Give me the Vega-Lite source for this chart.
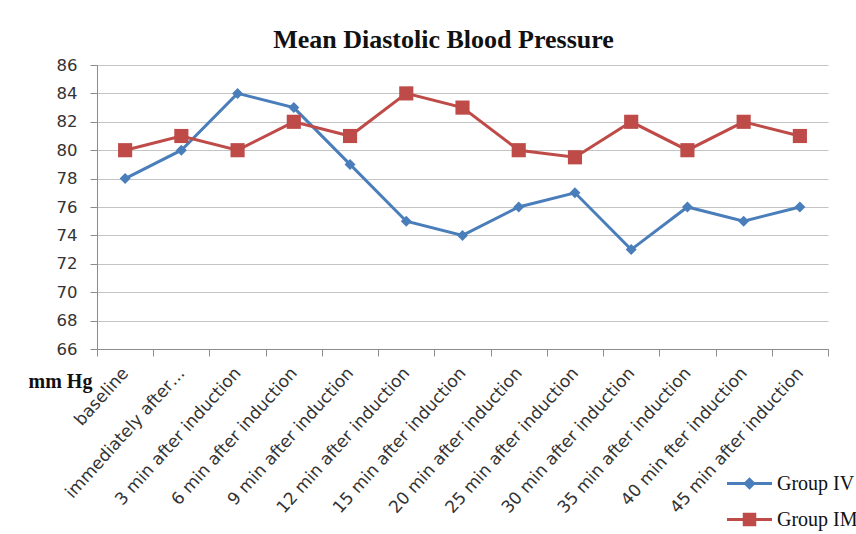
{
  "$schema": "https://vega.github.io/schema/vega-lite/v6.json",
  "autosize": "none",
  "width": 731,
  "height": 284,
  "padding": {"left": 97, "top": 65, "right": 28, "bottom": 185},
  "background": "white",
  "title": {
    "text": "Mean Diastolic Blood Pressure",
    "font": "Liberation Serif",
    "fontSize": 26,
    "fontWeight": "bold",
    "color": "#111",
    "anchor": "middle",
    "dx": -19,
    "baseline": "alphabetic",
    "offset": -17
  },
  "data": {
    "values": [
      {"time": "baseline", "group": "Group IV", "value": 78},
      {"time": "immediately after…", "group": "Group IV", "value": 80},
      {"time": "3 min after induction", "group": "Group IV", "value": 84},
      {"time": "6 min after induction", "group": "Group IV", "value": 83},
      {"time": "9 min after induction", "group": "Group IV", "value": 79},
      {"time": "12 min after induction", "group": "Group IV", "value": 75},
      {"time": "15 min after induction", "group": "Group IV", "value": 74},
      {"time": "20 min after induction", "group": "Group IV", "value": 76},
      {"time": "25 min after induction", "group": "Group IV", "value": 77},
      {"time": "30 min after induction", "group": "Group IV", "value": 73},
      {"time": "35 min after induction", "group": "Group IV", "value": 76},
      {"time": "40 min fter induction", "group": "Group IV", "value": 75},
      {"time": "45 min after induction", "group": "Group IV", "value": 76},
      {"time": "baseline", "group": "Group IM", "value": 80},
      {"time": "immediately after…", "group": "Group IM", "value": 81},
      {"time": "3 min after induction", "group": "Group IM", "value": 80},
      {"time": "6 min after induction", "group": "Group IM", "value": 82},
      {"time": "9 min after induction", "group": "Group IM", "value": 81},
      {"time": "12 min after induction", "group": "Group IM", "value": 84},
      {"time": "15 min after induction", "group": "Group IM", "value": 83},
      {"time": "20 min after induction", "group": "Group IM", "value": 80},
      {"time": "25 min after induction", "group": "Group IM", "value": 79.5},
      {"time": "30 min after induction", "group": "Group IM", "value": 82},
      {"time": "35 min after induction", "group": "Group IM", "value": 80},
      {"time": "40 min fter induction", "group": "Group IM", "value": 82},
      {"time": "45 min after induction", "group": "Group IM", "value": 81}
    ]
  },
  "encoding": {
    "x": {
      "field": "time",
      "type": "nominal",
      "sort": null,
      "scale": {"type": "band", "paddingInner": 0, "paddingOuter": 0},
      "axis": {
        "title": null,
        "labelAngle": -48,
        "labelFont": "DejaVu Sans",
        "labelFontSize": 17,
        "labelColor": "#333",
        "labelPadding": 14,
        "labelLimit": 400,
        "tickBand": "extent",
        "tickSize": 7,
        "tickColor": "#8c8c8c",
        "domainColor": "#8c8c8c",
        "grid": false,
        "labelOverlap": false
      }
    },
    "y": {
      "field": "value",
      "type": "quantitative",
      "scale": {"domain": [66, 86], "nice": false, "zero": false},
      "axis": {
        "values": [66, 68, 70, 72, 74, 76, 78, 80, 82, 84, 86],
        "title": "mm Hg",
        "titleAngle": 0,
        "titleFont": "Liberation Serif",
        "titleFontSize": 20,
        "titleFontWeight": "bold",
        "titleColor": "#111",
        "titleAlign": "left",
        "titleBaseline": "alphabetic",
        "titleX": -69,
        "titleY": 322,
        "labelFont": "DejaVu Sans",
        "labelFontSize": 16.5,
        "labelColor": "#333",
        "labelPadding": 13,
        "tickSize": 7,
        "tickColor": "#8c8c8c",
        "domainColor": "#8c8c8c",
        "gridColor": "#c4c4c4",
        "gridWidth": 1.2
      }
    },
    "color": {
      "field": "group",
      "type": "nominal",
      "scale": {"domain": ["Group IV", "Group IM"], "range": ["#4A7EBB", "#BE4B48"]}
    }
  },
  "layer": [
    {"mark": {"type": "line", "strokeWidth": 3}},
    {
      "transform": [{"filter": "datum.group == 'Group IV'"}],
      "mark": {"type": "point", "shape": "diamond", "filled": true, "opacity": 1, "size": 120}
    },
    {
      "transform": [{"filter": "datum.group == 'Group IM'"}],
      "mark": {"type": "point", "shape": "square", "filled": true, "opacity": 1, "size": 200}
    },
    {
      "transform": [{"filter": "false"}],
      "mark": {"type": "point", "filled": true, "opacity": 1},
      "encoding": {
        "shape": {
          "field": "group",
          "type": "nominal",
          "scale": {
            "domain": ["Group IV", "Group IM"],
            "range": [
              "M-1,-0.067H1V0.067H-1Z M0,-0.28L0.28,0L0,0.28L-0.28,0Z",
              "M-1,-0.067H1V0.067H-1Z M-0.3,-0.3H0.3V0.3H-0.3Z"
            ]
          }
        }
      }
    }
  ],
  "config": {
    "view": {"stroke": null},
    "legend": {
      "orient": "none",
      "legendX": 630,
      "legendY": 396,
      "title": null,
      "padding": 0,
      "labelFont": "Liberation Serif",
      "labelFontSize": 20,
      "labelColor": "#111",
      "labelOffset": 5,
      "symbolSize": 2025,
      "symbolStrokeWidth": 0,
      "rowPadding": 3,
      "labelLimit": 300
    }
  }
}
